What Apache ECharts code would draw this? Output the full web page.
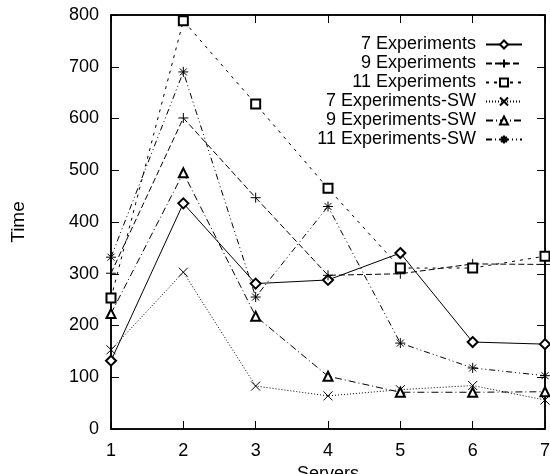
<!DOCTYPE html>
<html>
<head>
<meta charset="utf-8">
<script src="https://cdn.jsdelivr.net/npm/echarts@6/dist/echarts.min.js"></script>
<style>
  html, body { margin: 0; padding: 0; background: #fff; }
  #chart { width: 550px; height: 474px; }
</style>
</head>
<body>
<div id="chart"></div>
<script>
// servers on the x axis
const servers = [1, 2, 3, 4, 5, 6, 7]
const seriesNames = ['7 Experiments', '9 Experiments', '11 Experiments',
  '7 Experiments-SW', '9 Experiments-SW', '11 Experiments-SW']
const exp7 = [132, 436, 281, 288, 340, 168, 164]
const exp9 = [301, 601, 447, 297, 300, 319, 318]
const exp11 = [253, 789, 628, 465, 311, 311, 334]
const exp7sw = [153, 303, 83, 64, 76, 84, 56]
const exp9sw = [223, 495, 218, 102, 71, 71, 72]
const exp11sw = [332, 690, 255, 430, 166, 118, 103]

const FONT = 'Liberation Sans'
const PLUS = 'path://M0,5H10M5,0V10'
const CROSS = 'path://M0,0L10,10M10,0L0,10'
const STAR = 'path://M0,5H10M5,0V10M1.5,1.5L8.5,8.5M8.5,1.5L1.5,8.5'

function mkLine (name, vals, symbol, dash, size) {
  return {
    name,
    type: 'line',
    data: servers.map((x, i) => [x, vals[i]]),
    symbol,
    symbolSize: size,
    showSymbol: true,
    clip: false,
    lineStyle: { color: '#000', width: 1, type: dash },
    itemStyle: { color: '#000', borderColor: '#000', borderWidth: 1 },
    emphasis: { disabled: true },
    animation: false
  }
}

const chart = echarts.init(document.getElementById('chart'), null, { renderer: 'canvas' })

const tickStyle = { show: true, inside: true, length: 8, lineStyle: { color: '#000', width: 1 } }
const lineStyle = { show: true, onZero: false, lineStyle: { color: '#000', width: 1.5 } }

chart.setOption({
  backgroundColor: '#fff',
  animation: false,
  textStyle: { fontFamily: FONT },
  grid: {
    left: 111, right: 5, top: 15, bottom: 45,
    outerBoundsMode: 'none',
    show: true, borderColor: '#000', borderWidth: 1.5, backgroundColor: 'transparent'
  },
  legend: {
    orient: 'vertical',
    right: 22,
    top: 30,
    align: 'right',
    itemWidth: 36,
    itemHeight: 10,
    itemGap: 0,
    textStyle: { fontFamily: FONT, fontSize: 18, lineHeight: 19, color: '#000', padding: [0, 5, 0, 0] },
    data: seriesNames
  },
  xAxis: [{
    type: 'value',
    min: 1,
    max: 7,
    interval: 1,
    name: 'Servers',
    nameLocation: 'middle',
    nameGap: 34,
    nameTextStyle: { fontFamily: FONT, fontSize: 18, color: '#000' },
    axisLine: lineStyle,
    axisTick: tickStyle,
    axisLabel: { color: '#000', fontSize: 18, fontFamily: FONT, margin: 13 },
    splitLine: { show: false }
  }, {
    type: 'value',
    position: 'top',
    min: 1,
    max: 7,
    interval: 1,
    axisLine: lineStyle,
    axisTick: tickStyle,
    axisLabel: { show: false },
    splitLine: { show: false }
  }],
  yAxis: [{
    type: 'value',
    min: 0,
    max: 800,
    interval: 100,
    name: 'Time',
    nameLocation: 'middle',
    nameGap: 83,
    nameRotate: 90,
    nameTextStyle: { fontFamily: FONT, fontSize: 19, color: '#000' },
    axisLine: lineStyle,
    axisTick: tickStyle,
    axisLabel: { color: '#000', fontSize: 18, fontFamily: FONT, margin: 12 },
    splitLine: { show: false }
  }, {
    type: 'value',
    position: 'right',
    min: 0,
    max: 800,
    interval: 100,
    axisLine: lineStyle,
    axisTick: tickStyle,
    axisLabel: { show: false },
    splitLine: { show: false }
  }],
  series: [
    mkLine(seriesNames[0], exp7, 'emptyDiamond', 'solid', 10),
    mkLine(seriesNames[1], exp9, PLUS, [6, 3], 10),
    mkLine(seriesNames[2], exp11, 'emptyRect', [3, 5], 9),
    mkLine(seriesNames[3], exp7sw, CROSS, [1, 2], 9),
    mkLine(seriesNames[4], exp9sw, 'emptyTriangle', [7, 3, 1, 3], 9),
    mkLine(seriesNames[5], exp11sw, STAR, [6, 3, 1, 3, 1, 3], 10)
  ]
})
</script>
</body>
</html>
